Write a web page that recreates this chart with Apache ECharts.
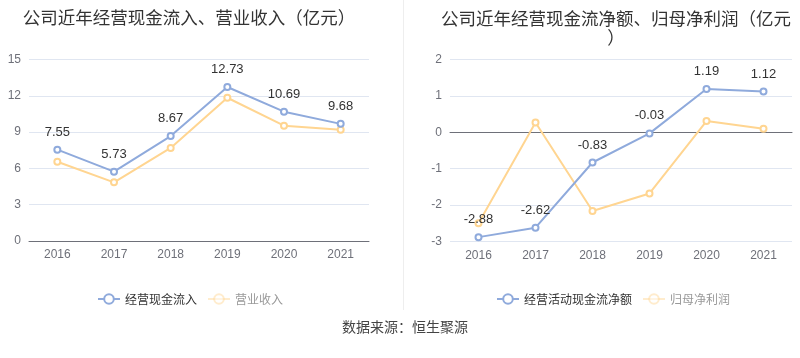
<!DOCTYPE html>
<html><head><meta charset="utf-8">
<script src="https://cdn.jsdelivr.net/npm/echarts@6/dist/echarts.min.js"></script>
<style>html,body{margin:0;padding:0;background:#fff}#c{width:800px;height:358px}</style>
</head><body><div id="c"></div>
<script>
const years = ['2016','2017','2018','2019','2020','2021'];
const cashInflow = [7.55, 5.73, 8.67, 12.73, 10.69, 9.68];
const revenue = [6.55, 4.85, 7.69, 11.84, 9.53, 9.20];
const netCashFlow = [-2.88, -2.62, -0.83, -0.03, 1.19, 1.12];
const netProfit = [-2.50, 0.27, -2.16, -1.68, 0.31, 0.10];
const leftTicks = {min: 0, max: 15, interval: 3};
const rightTicks = {min: -3, max: 2, interval: 1};

const BLUE = '#8FAADC', ORANGE = '#FFD591';
const FONT = "'Liberation Sans', 'Noto Sans CJK SC', sans-serif";
const CJK = "'Noto Sans CJK SC', sans-serif";
const chart = echarts.init(document.getElementById('c'), null, {renderer: 'canvas'});

function lineSeries(name, data, color, xi, yi, showLabel) {
  return {
    name, type: 'line', data, xAxisIndex: xi, yAxisIndex: yi,
    symbol: 'emptyCircle', symbolSize: 6,
    lineStyle: {width: 2, color}, itemStyle: {color, borderWidth: 2},
    label: {show: showLabel, position: 'top', color: '#333', fontSize: 13, distance: 7},
    z: showLabel ? 3 : 2
  };
}
const axisLabel = {color: '#6E7079', fontSize: 12};
chart.setOption({
  textStyle: {fontFamily: FONT},
  animation: false,
  title: [
    {text: '公司近年经营现金流入、营业收入（亿元）', left: 184, top: 4, textAlign: 'center',
     textStyle: {fontSize: 17.5, fontWeight: 'normal', color: '#333', fontFamily: CJK}},
    {text: '公司近年经营现金流净额、归母净利润（亿元）', left: 611, top: 4, textAlign: 'center',
     textStyle: {fontSize: 17.5, fontWeight: 'normal', color: '#333', width: 365, overflow: 'break', lineHeight: 19,
       fontFamily: CJK}},
    {text: '数据来源：恒生聚源', left: 400, top: 315, textAlign: 'center',
     textStyle: {fontSize: 14, fontWeight: 'normal', color: '#444', fontFamily: CJK}}
  ],
  graphic: [{type: 'line', shape: {x1: 403.5, y1: 0, x2: 403.5, y2: 310}, style: {stroke: '#eeeeee', lineWidth: 1}}],
  legend: [
    {left: 92, top: 288, itemWidth: 22, itemHeight: 12, itemGap: 10,
     textStyle: {fontSize: 12, color: '#333', fontFamily: CJK},
     data: [{name: '经营现金流入'}, {name: '营业收入', itemStyle: {opacity: 0.45}, lineStyle: {opacity: 0.45}, textStyle: {color: '#999'}}]},
    {left: 491, top: 288, itemWidth: 22, itemHeight: 12, itemGap: 10,
     textStyle: {fontSize: 12, color: '#333', fontFamily: CJK},
     data: [{name: '经营活动现金流净额'}, {name: '归母净利润', itemStyle: {opacity: 0.45}, lineStyle: {opacity: 0.45}, textStyle: {color: '#999'}}]}
  ],
  grid: [
    {left: 29, top: 59.5, width: 340, height: 181.5},
    {left: 450, top: 59.5, width: 342, height: 182}
  ],
  xAxis: [
    {gridIndex: 0, type: 'category', data: years, axisLine: {lineStyle: {color: '#6E7079'}},
     axisTick: {alignWithLabel: true}, axisLabel},
    {gridIndex: 1, type: 'category', data: years, position: 'top', axisLine: {onZero: true, lineStyle: {color: '#6E7079'}},
     axisTick: {alignWithLabel: true, inside: true}, axisLabel: {show: false}},
    {gridIndex: 1, type: 'category', data: years, position: 'bottom', axisLine: {show: false, onZero: false},
     axisTick: {show: false}, axisLabel}
  ],
  yAxis: [
    {gridIndex: 0, type: 'value', ...leftTicks, axisLabel, splitLine: {lineStyle: {color: '#E0E6F1'}}},
    {gridIndex: 1, type: 'value', ...rightTicks, axisLabel, splitLine: {lineStyle: {color: '#E0E6F1'}}}
  ],
  series: [
    lineSeries('经营现金流入', cashInflow, BLUE, 0, 0, true),
    lineSeries('营业收入', revenue, ORANGE, 0, 0, false),
    lineSeries('经营活动现金流净额', netCashFlow, BLUE, 2, 1, true),
    lineSeries('归母净利润', netProfit, ORANGE, 2, 1, false)
  ]
});
</script></body></html>
